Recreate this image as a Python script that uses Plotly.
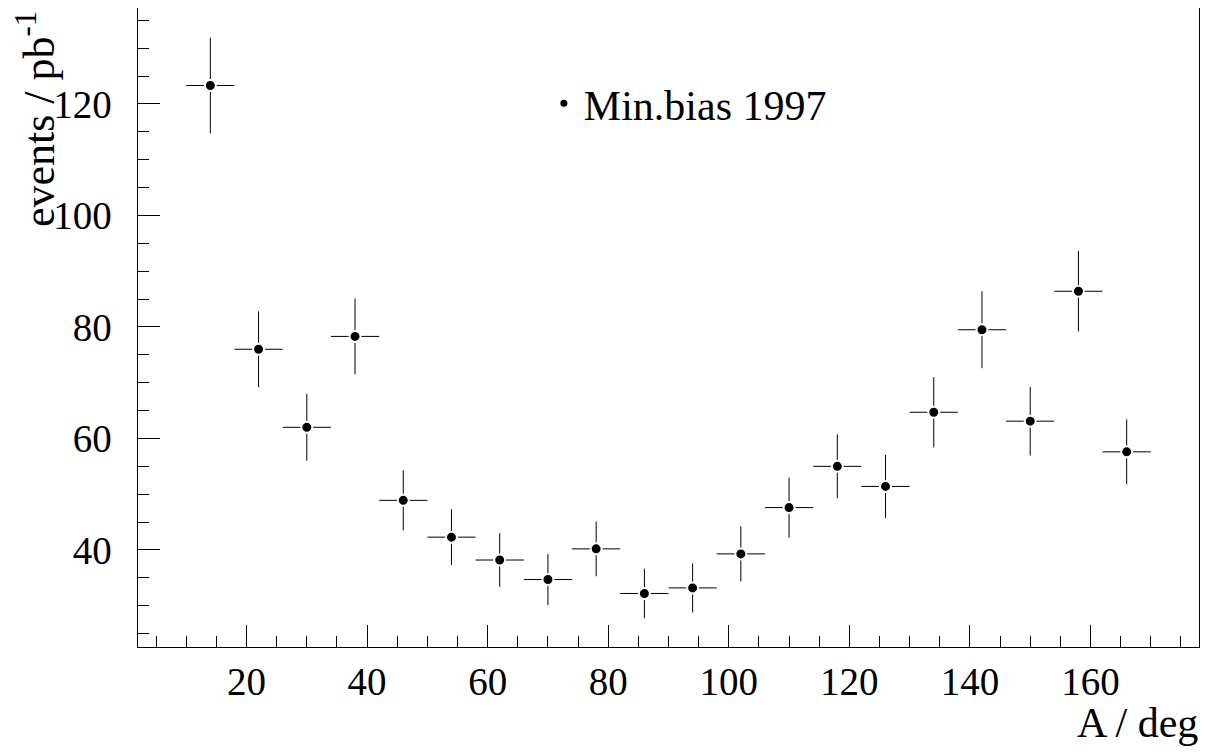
import plotly.graph_objects as go

# Data
angle = [14, 22, 30, 38, 46, 54, 62, 70, 78, 86, 94, 102, 110, 118, 126, 134, 142, 150, 158, 166]
events = [123.3, 76.0, 62.0, 78.3, 48.9, 42.3, 38.2, 34.7, 40.2, 32.2, 33.2, 39.3, 47.6, 55.0, 51.4, 64.7, 79.5, 63.1, 86.4, 57.6]
err_y = [8.6, 6.8, 6.0, 6.8, 5.4, 5.0, 4.8, 4.6, 4.9, 4.45, 4.4, 4.95, 5.4, 5.75, 5.65, 6.3, 6.9, 6.15, 7.2, 5.8]
half_bin = [4] * len(angle)
series_name = "Min.bias 1997"

FONT = "Liberation Serif"
FS = 39

fig = go.Figure()
fig.add_trace(go.Scatter(
    x=angle, y=events, mode="markers", name=series_name, legendgroup="mb",
    marker=dict(color="black", size=11, line=dict(color="white", width=2)),
    error_y=dict(type="data", array=err_y, color="black", thickness=1, width=0),
    error_x=dict(type="data", array=half_bin, color="black", thickness=1, width=0),
    showlegend=False,
))
# legend entry (smaller dot, as in the reference key)
fig.add_trace(go.Scatter(
    x=[None], y=[None], mode="markers", name=series_name, legendgroup="mb",
    marker=dict(color="black", size=7), showlegend=True,
))

axis_common = dict(
    showline=True, linecolor="black", linewidth=1, mirror=True,
    ticks="inside", ticklen=22, tickwidth=1, tickcolor="black",
    showgrid=False, zeroline=False, automargin=False,
    tickfont=dict(family=FONT, size=FS, color="black"),
)

fig.update_xaxes(range=[2, 178], dtick=20, tick0=0,
                 minor=dict(dtick=5, ticks="inside", ticklen=11, tickcolor="black", tickwidth=1, showgrid=False),
                 **axis_common)
fig.update_yaxes(range=[22.6, 137.2], dtick=20, tick0=0, ticksuffix="\u00a0\u2009",
                 minor=dict(dtick=5, ticks="inside", ticklen=11, tickcolor="black", tickwidth=1, showgrid=False),
                 **axis_common)

fig.add_annotation(text="A / deg", xref="paper", yref="paper", x=1.0, y=-0.081,
                   xanchor="right", yanchor="top", showarrow=False, borderpad=0,
                   font=dict(family=FONT, size=42, color="black"))
fig.add_annotation(text="events / pb<sup>-1</sup>", xref="paper", yref="paper",
                   x=-0.0957, y=0.999, xanchor="center", yanchor="top", textangle=-90,
                   showarrow=False, font=dict(family=FONT, size=44, color="black"))

fig.update_layout(
    width=1199, height=738,
    margin=dict(l=130, r=8, t=0, b=99, autoexpand=False),
    paper_bgcolor="white", plot_bgcolor="white",
    font=dict(family=FONT, size=FS, color="black"),
    legend=dict(x=0.3825, y=0.904, xanchor="left", yanchor="top",
                bgcolor="rgba(0,0,0,0)", font=dict(family=FONT, size=42),
                itemsizing="trace"),
)

fig.write_html("out.html")
